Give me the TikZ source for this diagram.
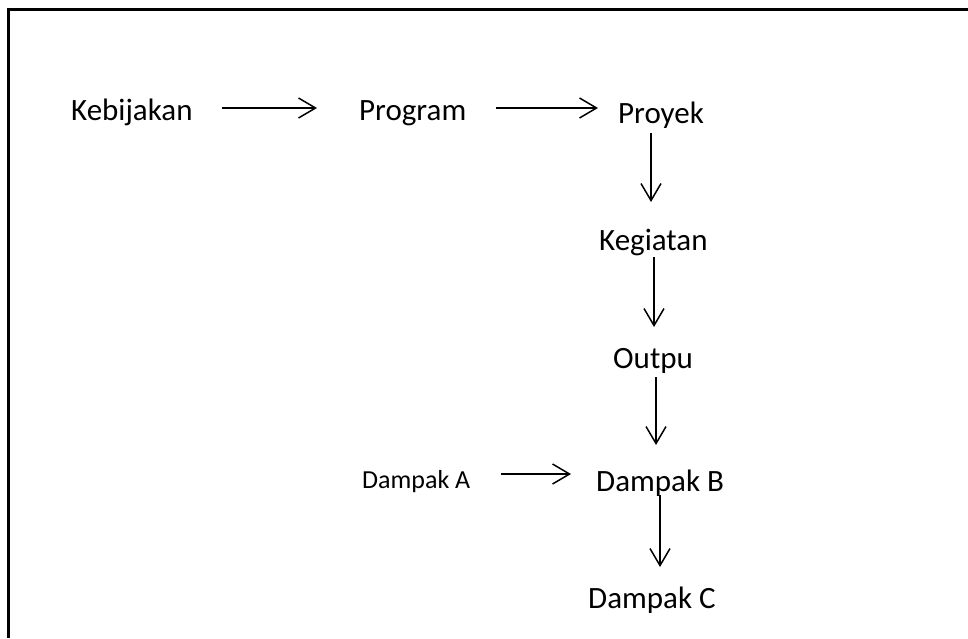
\documentclass[tikz,border=0pt]{standalone}
\usepackage{fontspec}
\setmainfont{Carlito}
\usetikzlibrary{arrows.meta}
\tikzset{
    lbl/.style = {font = \fontsize{31}{37}\selectfont, inner sep = 0, anchor = base west},
    lblsmall/.style = {lbl, font = \fontsize{26}{31}\selectfont},
    arr/.style = {line width = 1.5pt, -{Straight Barb[length = 17pt, width = 20pt, line width = 1.5pt]}}
}
\begin{document}
\begin{tikzpicture}[x = 1pt, y = -1pt]
    \useasboundingbox (0,0) rectangle (968,638);
    \draw[line width = 3pt] (8.5,638) -- (8.5,9.5) -- (968,9.5);
    \node[lbl] (keb) at (71,120) {Kebijakan};
    \node[lbl] (prog) at (359,120) {Program};
    \node[lbl] (proy) at (618,123) {Proyek};
    \node[lbl] (kegi) at (599,250) {Kegiatan};
    \node[lbl] (outp) at (613,368) {Outpu};
    \node[lblsmall] (dampA) at (362,488) {Dampak A};
    \node[lbl] (dampB) at (596,491) {Dampak B};
    \node[lbl] (dampC) at (588,608) {Dampak C};
    \draw[arr] ([shift = {(29,-12)}]keb.base east) -- ([shift = {(-42,-12)}]prog.base west);
    \draw[arr] ([shift = {(30,-12)}]prog.base east) -- ([shift = {(-20,-15)}]proy.base west);
    \draw[arr] ([shift = {(33,10)}]proy.base west) -- ([shift = {(52,-48)}]kegi.base west);
    \draw[arr] ([shift = {(55,7)}]kegi.base west) -- ([shift = {(41,-41)}]outp.base west);
    \draw[arr] ([shift = {(43,9)}]outp.base west) -- ([shift = {(60,-46)}]dampB.base west);
    \draw[arr] ([shift = {(31,-14)}]dampA.base east) -- ([shift = {(-25,-17)}]dampB.base west);
    \draw[arr] ([shift = {(64,4)}]dampB.base west) -- ([shift = {(72,-41)}]dampC.base west);
\end{tikzpicture}
\end{document}
